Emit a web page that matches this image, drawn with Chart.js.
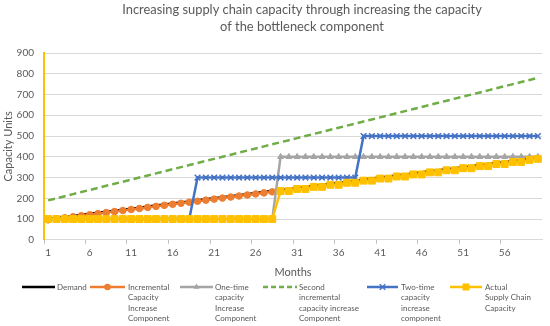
<!DOCTYPE html>
<html><head><meta charset="utf-8">
<script src="https://cdn.jsdelivr.net/npm/chart.js@4.4.1/dist/chart.umd.min.js"></script>
<style>html,body{margin:0;padding:0;background:#fff;}#wrap{width:550px;height:326px;position:relative;}</style>
</head><body><div id="wrap"><canvas id="c" width="550" height="326"></canvas></div>
<script>
const chartTitle = ['Increasing supply chain capacity through increasing the capacity', 'of the bottleneck component'];
const xTitle = 'Months';
const yTitle = 'Capacity Units';
const months = [1,2,3,4,5,6,7,8,9,10,11,12,13,14,15,16,17,18,19,20,21,22,23,24,25,26,27,28,29,30,31,32,33,34,35,36,37,38,39,40,41,42,43,44,45,46,47,48,49,50,51,52,53,54,55,56,57,58,59,60];
const shownMonthLabels = [1,6,11,16,21,26,31,36,41,46,51,56];
const demand = [100,105,110,115,120,125,130,135,140,145,150,155,160,165,170,175,180,185,190,195,200,205,210,215,220,225,230,235,240,245,250,255,260,265,270,275,280,285,290,295,300,305,310,315,320,325,330,335,340,345,350,355,360,365,370,375,380,385,390,395];
const incremental = [96,101,106,111,116,121,126,131,136,141,146,151,156,161,166,171,176,181,186,191,196,201,206,211,216,221,226,231,null,null,null,null,null,null,null,null,null,null,null,null,null,null,null,null,null,null,null,null,null,null,null,null,null,null,null,null,null,null,null,null];
const oneTime = [100,100,100,100,100,100,100,100,100,100,100,100,100,100,100,100,100,100,100,100,100,100,100,100,100,100,100,100,400,400,400,400,400,400,400,400,400,400,400,400,400,400,400,400,400,400,400,400,400,400,400,400,400,400,400,400,400,400,400,400];
const secondIncremental = [190,200,210,220,230,240,250,260,270,280,290,300,310,320,330,340,350,360,370,380,390,400,410,420,430,440,450,460,470,480,490,500,510,520,530,540,550,560,570,580,590,600,610,620,630,640,650,660,670,680,690,700,710,720,730,740,750,760,770,780];
const twoTime = [100,100,100,100,100,100,100,100,100,100,100,100,100,100,100,100,100,100,300,300,300,300,300,300,300,300,300,300,300,300,300,300,300,300,300,300,300,300,500,500,500,500,500,500,500,500,500,500,500,500,500,500,500,500,500,500,500,500,500,500];
const actual = [100,100,100,100,100,100,100,100,100,100,100,100,100,100,100,100,100,100,100,100,100,100,100,100,100,100,100,100,235,235,245,245,255,255,265,265,275,275,285,285,295,295,305,305,315,315,325,325,335,335,345,345,355,355,365,365,375,375,385,390];
const legendNames = [
  ['Demand'],
  ['Incremental','Capacity','Increase','Component'],
  ['One-time','capacity','Increase','Component'],
  ['Second','incremental','capacity increase','Component'],
  ['Two-time','capacity','increase','component'],
  ['Actual','Supply Chain','Capacity']
];

const FONT = 'Lato, Carlito, "Open Sans", sans-serif';
const TXT = '#595959';
const C = {black:'#000000', orange:'#ED7D31', gray:'#A5A5A5', green:'#70AD47', blue:'#4472C4', yellow:'#FFC000'};

function ds(label, data, color, opts) {
  return Object.assign({label, data, borderColor: color, backgroundColor: color, pointBackgroundColor: color, pointBorderColor: color,
    borderWidth: 2.5, tension: 0, spanGaps: false, pointRadius: 0, pointHoverRadius: 0}, opts || {});
}

const datasets = [
  ds(legendNames[0].join(' '), demand, C.black, {order: 6}),
  ds(legendNames[1].join(' '), incremental, C.orange, {order: 5, pointStyle: 'circle', pointRadius: 3.3, pointBorderWidth: 1}),
  ds(legendNames[2].join(' '), oneTime, C.gray, {order: 4, pointStyle: 'triangle', pointRadius: 3.4, pointBorderWidth: 1}),
  ds(legendNames[3].join(' '), secondIncremental, C.green, {order: 3, borderDash: [7,4]}),
  ds(legendNames[4].join(' '), twoTime, C.blue, {order: 2, pointStyle: 'crossRot', pointRadius: 4, pointBorderWidth: 1.5}),
  ds(legendNames[5].join(' '), actual, C.yellow, {order: 1, pointStyle: 'rect', pointRadius: 4.9, pointBorderWidth: 1})
];

const legendLayout = [
  {x0: 22, x1: 55, tx: 57, color: C.black, marker: null},
  {x0: 90, x1: 125, tx: 128, color: C.orange, marker: 'circle'},
  {x0: 180, x1: 213, tx: 215, color: C.gray, marker: 'triangle'},
  {x0: 263, x1: 297, tx: 299, color: C.green, marker: null, dash: [5,3]},
  {x0: 367, x1: 398, tx: 401, color: C.blue, marker: 'crossRot'},
  {x0: 450, x1: 482, tx: 485, color: C.yellow, marker: 'rect'}
];

function marker(ctx, type, x, y, color) {
  ctx.save();
  ctx.fillStyle = color; ctx.strokeStyle = color; ctx.setLineDash([]);
  if (type === 'circle') { ctx.beginPath(); ctx.arc(x, y, 3.3, 0, Math.PI*2); ctx.fill(); }
  else if (type === 'triangle') { const r = 3.6; ctx.beginPath(); ctx.moveTo(x, y - r); ctx.lineTo(x + r*0.866, y + r*0.5); ctx.lineTo(x - r*0.866, y + r*0.5); ctx.closePath(); ctx.fill(); }
  else if (type === 'crossRot') { const r = 2.8; ctx.lineWidth = 1.5; ctx.beginPath(); ctx.moveTo(x-r,y-r); ctx.lineTo(x+r,y+r); ctx.moveTo(x+r,y-r); ctx.lineTo(x-r,y+r); ctx.stroke(); }
  else if (type === 'rect') { ctx.fillRect(x-3.5, y-3.5, 7, 7); }
  ctx.restore();
}

const decorPlugin = {
  id: 'decor',
  afterDraw(chart) {
    const ctx = chart.ctx;
    ctx.save();
    // title
    ctx.fillStyle = TXT; ctx.textAlign = 'center'; ctx.textBaseline = 'middle';
    let fs = 14;
    ctx.font = fs + 'px ' + FONT;
    const w = ctx.measureText(chartTitle[0]).width;
    fs = fs * 360 / w;
    ctx.font = fs + 'px ' + FONT;
    ctx.fillText(chartTitle[0], 302, 10);
    ctx.fillText(chartTitle[1], 302, 27);
    // legend
    const ly = 287, lh = 10.5;
    ctx.font = '8px ' + FONT;
    ctx.textAlign = 'left';
    legendLayout.forEach((it, i) => {
      ctx.save();
      ctx.strokeStyle = it.color; ctx.lineWidth = 2.5;
      ctx.setLineDash(it.dash || []);
      ctx.beginPath(); ctx.moveTo(it.x0, ly); ctx.lineTo(it.x1, ly); ctx.stroke();
      ctx.restore();
      if (it.marker) marker(ctx, it.marker, (it.x0 + it.x1) / 2, ly, it.color);
      ctx.fillStyle = TXT;
      legendNames[i].forEach((line, j) => ctx.fillText(line, it.tx, ly + j * lh));
    });
    ctx.restore();
  }
};

new Chart(document.getElementById('c'), {
  type: 'line',
  data: {labels: months, datasets},
  options: {
    responsive: false, animation: false,
    layout: {padding: {top: 53, right: 8, bottom: 45, left: 0}},
    plugins: {legend: {display: false}, tooltip: {enabled: false}, title: {display: false}},
    scales: {
      x: {
        offset: true,
        grid: {offset: true, drawOnChartArea: false, drawTicks: true, tickLength: 4,
          color: (c) => (c.index % 5 === 0 ? '#BFBFBF' : 'rgba(0,0,0,0)')},
        border: {color: '#D9D9D9', width: 1},
        ticks: {autoSkip: false, maxRotation: 0, minRotation: 0, padding: 3, color: TXT, font: {family: FONT, size: 10},
          callback: function(v, i) { const m = months[i]; return shownMonthLabels.includes(m) ? String(m) : ''; }},
        title: {display: true, text: xTitle, color: TXT, font: {family: FONT, size: 11}, padding: {top: 4, bottom: 2}}
      },
      y: {
        min: 0, max: 900,
        afterFit(s) { s.width = 44; },
        grid: {color: '#D9D9D9', drawTicks: false, lineWidth: 1},
        border: {color: C.yellow, width: 2},
        ticks: {stepSize: 100, padding: 10, color: TXT, font: {family: FONT, size: 10}},
        title: {display: true, text: yTitle, color: TXT, font: {family: FONT, size: 11}, padding: {top: 1.5, bottom: 0}}
      }
    }
  },
  plugins: [decorPlugin]
});
</script>
</body></html>
